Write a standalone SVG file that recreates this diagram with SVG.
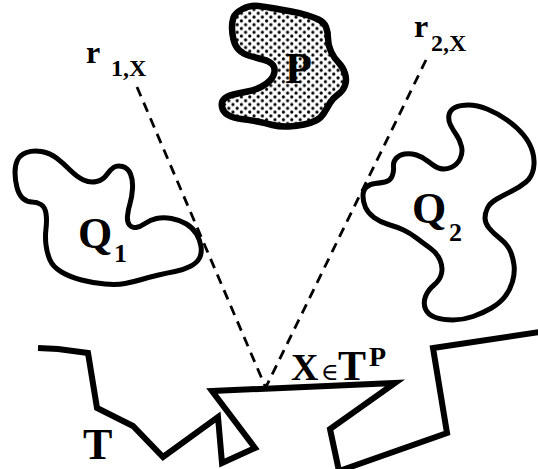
<svg xmlns="http://www.w3.org/2000/svg" width="538" height="469" viewBox="0 0 538 469">
<defs>
<pattern id="dots" width="8.4" height="7.6" patternUnits="userSpaceOnUse">
<circle cx="2" cy="1.9" r="1.6" fill="#000"/>
<circle cx="6.2" cy="5.7" r="1.6" fill="#000"/>
</pattern>
</defs>
<style>
.blob{fill:none;stroke:#000;stroke-width:5;stroke-linejoin:round}
.pblob{fill:url(#dots);stroke:#000;stroke-width:6.5;stroke-linejoin:round}
.dash{stroke:#000;stroke-width:2.8;stroke-dasharray:10 7;fill:none}
.poly{fill:none;stroke:#000;stroke-width:6;stroke-linejoin:miter;stroke-miterlimit:10}
text{font-family:"Liberation Serif","Times New Roman","DejaVu Serif",serif;font-weight:bold;fill:#000}
</style>
<rect width="538" height="469" fill="#fff"/>
<g id="connectors">
<line class="dash" x1="137" y1="87" x2="265" y2="386"/>
<line class="dash" x1="426" y1="60" x2="266" y2="387"/>
</g>
<g id="P">
<path class="pblob" d="M 233.5,17.5 Q 235,13 242.5,9 Q 250,5 258.5,6 Q 267,7 275,8.5 Q 283,10 291.5,11.5 Q 300,13 306.5,15 Q 313,17 318.5,19.5 Q 324,22 326,27 Q 328,32 328,38.5 Q 328,45 331,51.5 Q 334,58 338.5,62.5 Q 343,67 345,73.5 Q 347,80 345,85.5 Q 343,91 338,94.5 Q 333,98 330,103 Q 327,108 324,113 Q 321,118 316,120.5 Q 311,123 304,124.5 Q 297,126 288.5,126.5 Q 280,127 272.5,125 Q 265,123 257.5,121.5 Q 250,120 241.5,119 Q 233,118 228,115 Q 223,112 222,107 Q 221,102 224,99 Q 227,96 233.5,94.5 Q 240,93 247.5,91.5 Q 255,90 261,87 Q 267,84 270.5,80 Q 274,76 274.5,71.5 Q 275,67 272,64 Q 269,61 263,59.5 Q 257,58 250,56 Q 243,54 239,50 Q 235,46 233.5,39.5 Q 232,33 232,27.5 Q 232,22 233.5,17.5 Z"/>
<text x="285" y="83" font-size="44">P</text>
</g>
<g id="Q1">
<path class="blob" d="M 17.5,160 Q 20,155 26.5,152.5 Q 33,150 41.5,151.5 Q 50,153 56.5,158 Q 63,163 70,170 Q 77,177 83.5,180 Q 90,183 96.5,181.5 Q 103,180 106.5,175 Q 110,170 113.5,167.5 Q 117,165 122.5,166.5 Q 128,168 130.5,174 Q 133,180 132.5,188.5 Q 132,197 130,203.5 Q 128,210 127.5,216 Q 127,222 129.5,225 Q 132,228 136,227.5 Q 140,227 145,223.5 Q 150,220 156.5,218.5 Q 163,217 171.5,218.5 Q 180,220 186.5,224 Q 193,228 196.5,234 Q 200,240 201,246.5 Q 202,253 199.5,258 Q 197,263 190,266.5 Q 183,270 175,271.5 Q 167,273 158.5,275 Q 150,277 141.5,279.5 Q 133,282 125,283.5 Q 117,285 105,284 Q 93,283 81.5,280 Q 70,277 61.5,272 Q 53,267 50,260 Q 47,253 46,245 Q 45,237 46,228.5 Q 47,220 46,213.5 Q 45,207 41,204.5 Q 37,202 32,202 Q 27,202 23,198.5 Q 19,195 17,187.5 Q 15,180 15,172.5 Q 15,165 17.5,160 Z"/>
<text x="78" y="248" font-size="44">Q</text>
<text x="114" y="262" font-size="26">1</text>
</g>
<g id="Q2">
<path class="blob" d="M 363,196 Q 363,190 366.5,187 Q 370,184 375,183.5 Q 380,183 385,182 Q 390,181 392,176.5 Q 394,172 393.5,167 Q 393,162 396,158.5 Q 399,155 404.5,154 Q 410,153 416.5,155 Q 423,157 429,162 Q 435,167 440,168.5 Q 445,170 451,167.5 Q 457,165 460,159 Q 463,153 461.5,146.5 Q 460,140 456.5,135 Q 453,130 450.5,125 Q 448,120 449,115 Q 450,110 455,107.5 Q 460,105 468.5,105 Q 477,105 487,109 Q 497,113 507,120 Q 517,127 523.5,135 Q 530,143 532.5,151.5 Q 535,160 533.5,168.5 Q 532,177 526,182 Q 520,187 511,191.5 Q 502,196 496,199.5 Q 490,203 487.5,208 Q 485,213 485,218 Q 485,223 489,228 Q 493,233 500,238.5 Q 507,244 510,250.5 Q 513,257 514,265 Q 515,273 512.5,281.5 Q 510,290 505,296.5 Q 500,303 491.5,308 Q 483,313 473,316.5 Q 463,320 453,320 Q 443,320 435.5,317.5 Q 428,315 425.5,309 Q 423,303 425.5,296.5 Q 428,290 434,285 Q 440,280 441.5,273.5 Q 443,267 440,260 Q 437,253 430,248 Q 423,243 416.5,238 Q 410,233 403.5,230 Q 397,227 388.5,224.5 Q 380,222 374,217.5 Q 368,213 365.5,207.5 Q 363,202 363,196 Z"/>
<text x="412" y="223" font-size="44">Q</text>
<text x="449" y="241" font-size="26">2</text>
</g>
<g id="T">
<polyline class="poly" points="38,348 58,349 88,353 97,408 133,426 163,457 218,417 222,463 255,448 212,391 395,383 330,429 339,471 447,433 433,348 540,332"/>
<text x="83" y="459" font-size="44">T</text>
</g>
<g id="r1x">
<text x="86" y="63" font-size="32">r</text>
<text x="111" y="76" font-size="24">1,X</text>
</g>
<g id="r2x">
<text x="414" y="37" font-size="32">r</text>
<text x="431" y="51" font-size="24">2,X</text>
</g>
<g id="xlabel">
<text y="380" font-size="38"><tspan x="291">X</tspan><tspan x="321" font-size="24" font-weight="normal">∈</tspan><tspan x="338" font-size="42">T</tspan><tspan x="369" y="366" font-size="28">P</tspan></text>
</g>
</svg>
